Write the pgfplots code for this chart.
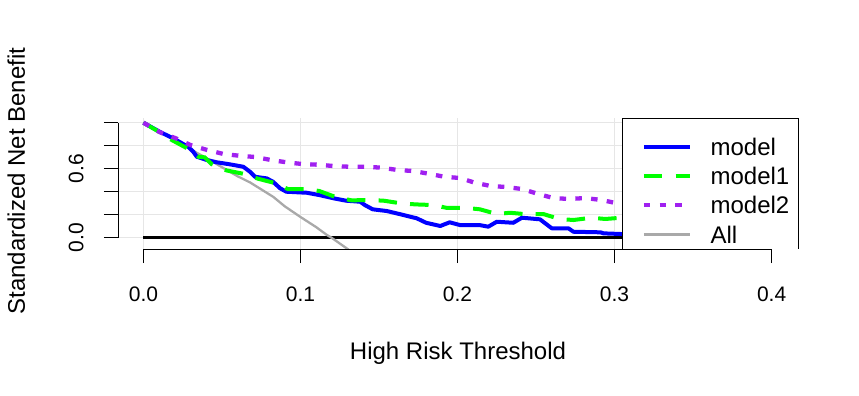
\documentclass[border=0pt]{standalone}
\usepackage{fontspec}
\setmainfont{Liberation Sans}
\usepackage{pgfplots}
\pgfplotsset{compat=1.18}
\definecolor{rblue}{HTML}{0000FF}
\definecolor{rgreen}{HTML}{00FF00}
\definecolor{rpurple}{HTML}{A020F0}
\definecolor{rgray}{HTML}{A9A9A9}
\definecolor{gridgray}{HTML}{E6E6E6}
\begin{document}
\begin{tikzpicture}
\useasboundingbox (0,0) rectangle (859bp,396bp);
\begin{axis}[
 scale only axis, width=680bp, height=131bp,
 at={(118bp,147bp)}, anchor=south west,
 xmin=-0.0162, xmax=0.4168, ymin=-0.098, ymax=1.041,
 axis line style={draw=none},
 xtick={0,0.1,0.2,0.3,0.4}, xticklabels={0.0,0.1,0.2,0.3,0.4},
 ytick={0,0.2,0.4,0.6,0.8,1.0}, yticklabels={0.0,{},{},0.6,{},{}},
 xtick pos=bottom, ytick pos=left,
 tick align=outside, major tick length=14bp,
 tick style={black, line width=0.8bp},
 grid=major, grid style={gridgray, line width=0.8bp},
 xticklabel style={font=\fontsize{21bp}{25bp}\selectfont, anchor=base},
 xticklabel shift=38bp,
 yticklabel style={font=\fontsize{21bp}{25bp}\selectfont, rotate=90, anchor=base},
 yticklabel shift=20.7bp,
 xlabel={High Risk Threshold}, ylabel={Standardized Net Benefit},
 label style={font=\fontsize{24bp}{29bp}\selectfont},
 xlabel style={at={(axis description cs:0.5,-0.842)}, anchor=base},
 ylabel style={at={(axis description cs:-0.1368,0.519)}, anchor=base},
 clip mode=individual,
 legend style={at={(axis description cs:0.7701,0.8473)}, anchor=north west,
   draw=none, fill=none, inner sep=0pt, outer sep=0pt,
   font=\fontsize{24bp}{29bp}\selectfont,
   nodes={inner sep=0pt, text height=17.5bp, text depth=0bp},
   row sep=11.7bp, column sep=18bp},
 legend cell align=left,
 legend image code/.code={\draw[#1] (0bp,0bp) -- (46.6bp,0bp);},
]
\addplot[black, line width=3.3bp, forget plot] coordinates {(0,0) (0.45,0)};
\addplot[rgray, line width=2.3bp, forget plot] coordinates {
(0,1.0) (0.01,0.926) (0.02,0.85) (0.034,0.738) (0.04,0.694) (0.05,0.613) (0.06,0.534)
(0.068,0.48) (0.0827,0.355) (0.09,0.273) (0.0997,0.183) (0.11,0.092) (0.1167,0.025)
(0.12,-0.002) (0.13,-0.098) (0.14,-0.196)};
\addplot[rblue, line width=4bp, line join=round] coordinates {
(0,1.0) (0.0105,0.92) (0.019,0.864) (0.0285,0.79) (0.0317,0.748) (0.034,0.704)
(0.0403,0.676) (0.0466,0.656) (0.0551,0.638) (0.0636,0.617) (0.0678,0.574) (0.071,0.53)
(0.0785,0.516) (0.0825,0.487) (0.087,0.43) (0.091,0.40) (0.104,0.391) (0.112,0.371)
(0.121,0.343) (0.129,0.322) (0.138,0.313) (0.141,0.284) (0.146,0.247) (0.155,0.232)
(0.163,0.206) (0.174,0.169) (0.180,0.13) (0.189,0.102) (0.195,0.134) (0.2016,0.11)
(0.214,0.11) (0.2196,0.096) (0.225,0.139) (0.2355,0.13) (0.241,0.174) (0.2525,0.16)
(0.26,0.082) (0.2706,0.082) (0.2738,0.052) (0.291,0.047) (0.293,0.038) (0.3046,0.032)
(0.33,0.03) (0.4,0.02)};
\addlegendentry{model}
\addplot[rgreen, line width=4bp, dash pattern=on 18.5bp off 13.2bp] coordinates {
(0,1.0) (0.0094,0.925) (0.0169,0.858) (0.0275,0.78) (0.035,0.704) (0.039,0.699)
(0.0434,0.64) (0.053,0.585) (0.0636,0.556) (0.073,0.513) (0.0838,0.475) (0.092,0.423)
(0.104,0.423) (0.112,0.406) (0.123,0.351) (0.1326,0.325) (0.144,0.328) (0.153,0.322)
(0.164,0.299) (0.173,0.29) (0.1846,0.284) (0.193,0.26) (0.205,0.26) (0.2143,0.247)
(0.225,0.206) (0.2334,0.217) (0.245,0.203) (0.2546,0.206) (0.265,0.163) (0.2738,0.154)
(0.2855,0.174) (0.294,0.163) (0.3046,0.174) (0.33,0.18) (0.4,0.2)};
\addlegendentry{model1}
\addplot[rpurple, line width=4.3bp, dash pattern=on 6.5bp off 9.3bp] coordinates {
(0,1.0) (0.0105,0.917) (0.0207,0.864) (0.03,0.806) (0.0406,0.763) (0.051,0.728)
(0.061,0.713) (0.071,0.702) (0.0812,0.676) (0.091,0.656) (0.101,0.641) (0.111,0.635)
(0.1215,0.623) (0.1315,0.617) (0.1417,0.617) (0.1517,0.609) (0.1617,0.589) (0.1718,0.58)
(0.1814,0.557) (0.1916,0.53) (0.2018,0.519) (0.211,0.478) (0.221,0.45) (0.231,0.441)
(0.2413,0.423) (0.2515,0.38) (0.261,0.345) (0.271,0.337) (0.2814,0.345) (0.2916,0.328)
(0.3018,0.299) (0.33,0.29) (0.4,0.28)};
\addlegendentry{model2}
\addlegendimage{rgray, line width=2.3bp}
\addlegendentry{All}
\fill[white] (rel axis cs:0.7422,0) rectangle (rel axis cs:1,1);
\draw[black, line width=0.8bp] (rel axis cs:0.7422,0) -- (rel axis cs:0.7422,1) -- (rel axis cs:1,1) -- (rel axis cs:1,0);
\draw[black, line width=0.8bp] (axis cs:-0.0162,0) -- (axis cs:-0.0162,1);
\draw[black, line width=0.8bp] (axis cs:0,-0.098) -- (axis cs:0.4,-0.098);
\end{axis}
\end{tikzpicture}
\end{document}
